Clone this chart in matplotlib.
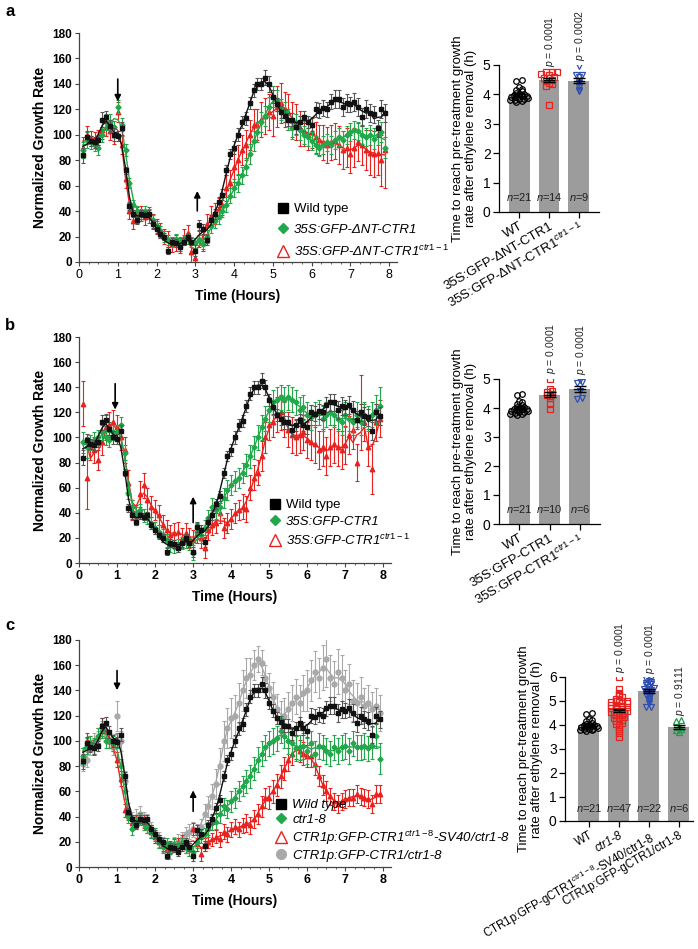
import numpy as np
import pandas as pd
import matplotlib
matplotlib.use("Agg")
import matplotlib.pyplot as plt
from matplotlib.lines import Line2D
from matplotlib.ticker import MultipleLocator

plt.rcParams['font.family'] = ['Liberation Sans', 'DejaVu Sans']
plt.rcParams['mathtext.fontset'] = 'custom'
plt.rcParams['mathtext.rm'] = 'Liberation Sans'
plt.rcParams['mathtext.it'] = 'Liberation Sans:italic'
plt.rcParams['mathtext.bf'] = 'Liberation Sans:bold'

# time points (hours), one every 0.1 h
hours = np.round(np.arange(1, 80) * 0.1, 1)

# wild type (same reference curve in all three panels)
wt = [84, 98, 95, 94, 96, 112, 114, 107, 100, 99,
      105, 72, 44, 38, 33, 38, 37, 38, 30, 26,
      22, 20, 9, 16, 15, 12, 16, 20, 16, 9,
      29, 26, 17, 33, 38, 47, 53, 72, 85, 90,
      100, 110, 113, 125, 135, 140, 140, 145, 140, 130,
      124, 118, 115, 112, 112, 106, 110, 114, 110, 108,
      120, 119, 121, 120, 126, 128, 128, 122, 125, 124,
      126, 122, 114, 120, 117, 116, 105, 120, 117]
wt_err = [6, 5, 4, 4, 4, 6, 5, 5, 5, 4,
          5, 3, 3, 3, 3, 3, 3, 3, 3, 3,
          3, 3, 3, 3, 3, 3, 3, 3, 3, 4,
          4, 4, 4, 4, 4, 4, 4, 4, 4, 5,
          5, 5, 5, 5, 5, 5, 5, 6, 6, 5,
          5, 5, 5, 5, 5, 5, 5, 5, 5, 5,
          6, 6, 6, 6, 6, 7, 7, 7, 7, 6,
          7, 7, 7, 7, 7, 7, 7, 7, 7]

# panel a
a_green = [88, 96, 94, 92, 90, 100, 110, 110, 106, 122,
           108, 88, 62, 45, 40, 38, 40, 38, 33, 28,
           24, 20, 17, 16, 18, 16, 17, 18, 16, 15,
           17, 14, 20, 28, 32, 35, 40, 45, 52, 58,
           62, 68, 75, 85, 95, 102, 110, 115, 122, 130,
           127, 120, 118, 112, 105, 108, 104, 100, 98, 95,
           92, 90, 92, 94, 92, 96, 98, 96, 100, 102,
           104, 103, 100, 98, 100, 97, 100, 102, 90]
a_green_err = [6, 6, 5, 5, 6, 6, 6, 6, 5, 5,
               5, 5, 4, 4, 4, 4, 4, 4, 4, 4,
               4, 4, 4, 4, 4, 4, 4, 4, 4, 4,
               4, 4, 5, 5, 5, 5, 5, 6, 6, 7,
               7, 7, 7, 8, 8, 8, 8, 8, 8, 8,
               8, 8, 8, 8, 8, 8, 8, 7, 7, 7,
               7, 7, 7, 7, 7, 7, 7, 7, 7, 7,
               7, 7, 7, 7, 8, 8, 8, 8, 8]
a_red = [90, 100, 97, 96, 98, 104, 106, 103, 100, 118,
         92, 65, 40, 32, 37, 38, 35, 37, 32, 28,
         25, 20, 18, 14, 15, 13, 20, 23, 8, 3,
         18, 15, 30, 36, 38, 42, 45, 58, 62, 75,
         80, 88, 92, 100, 108, 108, 112, 115, 118, 115,
         122, 125, 120, 118, 112, 110, 105, 103, 100, 102,
         98, 96, 94, 92, 94, 95, 92, 88, 90, 85,
         90, 94, 92, 88, 86, 85, 86, 80, 88]
a_red_err = [8, 7, 6, 6, 6, 7, 7, 7, 7, 8,
             7, 7, 6, 6, 6, 6, 6, 6, 6, 6,
             6, 6, 6, 6, 6, 6, 6, 6, 8, 8,
             6, 6, 8, 8, 8, 8, 8, 10, 10, 12,
             12, 12, 12, 12, 12, 12, 14, 14, 14, 16,
             16, 16, 14, 14, 14, 14, 14, 12, 12, 12,
             12, 12, 14, 14, 14, 14, 15, 15, 15, 15,
             15, 15, 16, 16, 18, 18, 18, 20, 30]

# panel b
b_green = [96, 92, 96, 98, 100, 104, 100, 98, 104, 104,
           110, 88, 56, 45, 40, 42, 38, 36, 32, 28,
           25, 22, 18, 14, 13, 14, 16, 17, 15, 8,
           25, 22, 28, 36, 45, 42, 45, 52, 58, 62,
           65, 68, 72, 78, 85, 92, 100, 108, 115, 122,
           128, 130, 132, 130, 132, 130, 128, 122, 124, 118,
           116, 118, 120, 115, 118, 120, 118, 115, 112, 118,
           115, 112, 118, 112, 118, 115, 118, 122, 125]
b_green_err = [8, 8, 6, 6, 6, 6, 6, 6, 6, 6,
               6, 6, 5, 5, 5, 5, 5, 5, 5, 5,
               5, 5, 5, 5, 5, 5, 5, 5, 5, 6,
               6, 6, 6, 6, 7, 7, 7, 8, 8, 8,
               8, 8, 8, 9, 9, 9, 10, 10, 10, 10,
               10, 10, 10, 10, 10, 10, 10, 10, 10, 10,
               10, 10, 10, 10, 10, 10, 10, 10, 10, 10,
               10, 10, 10, 10, 10, 10, 10, 12, 15]
b_red = [127, 68, 92, 90, 82, 96, 108, 110, 112, 108,
         100, 90, 64, 42, 38, 55, 62, 50, 45, 42,
         38, 30, 26, 22, 24, 25, 20, 24, 20, 18,
         24, 20, 12, 26, 30, 32, 40, 28, 32, 35,
         40, 42, 45, 43, 60, 68, 72, 85, 100, 110,
         112, 118, 120, 114, 106, 102, 100, 102, 104, 98,
         96, 95, 90, 92, 85, 92, 95, 92, 90, 94,
         102, 106, 80, 120, 112, 92, 75, 112, 115]
b_red_err = [18, 25, 10, 10, 8, 10, 10, 10, 10, 10,
             10, 10, 10, 8, 8, 10, 10, 10, 8, 8,
             8, 8, 8, 8, 8, 8, 8, 8, 8, 8,
             8, 8, 8, 8, 8, 8, 8, 8, 8, 8,
             8, 8, 10, 10, 10, 10, 10, 12, 12, 12,
             12, 14, 14, 14, 14, 14, 14, 14, 14, 14,
             14, 15, 15, 15, 15, 15, 15, 15, 15, 15,
             15, 15, 15, 30, 15, 15, 20, 15, 15]

# panel c
c_green = [88, 96, 98, 96, 104, 108, 100, 100, 98, 100,
           80, 60, 40, 30, 35, 38, 34, 32, 28, 26,
           20, 16, 18, 15, 18, 16, 18, 16, 14, 12,
           20, 24, 26, 30, 35, 36, 42, 48, 46, 52,
           55, 60, 64, 68, 72, 78, 85, 90, 95, 98,
           100, 102, 108, 104, 100, 98, 94, 95, 96, 92,
           98, 90, 96, 95, 92, 90, 95, 92, 95, 96,
           92, 98, 95, 95, 96, 94, 96, 104, 86]
c_green_err = [6, 6, 6, 6, 6, 6, 6, 6, 6, 6,
               6, 6, 5, 5, 5, 5, 5, 5, 5, 5,
               5, 5, 5, 5, 5, 5, 5, 5, 5, 5,
               5, 5, 5, 6, 6, 6, 7, 7, 7, 8,
               8, 8, 8, 9, 9, 9, 10, 10, 10, 10,
               10, 10, 10, 10, 10, 10, 10, 10, 10, 10,
               10, 10, 10, 10, 10, 10, 10, 10, 10, 10,
               10, 10, 10, 10, 10, 10, 10, 10, 12]
c_red = [88, 100, 98, 95, 104, 112, 108, 100, 98, 85,
         70, 45, 42, 35, 36, 38, 36, 32, 28, 24,
         20, 18, 14, 16, 17, 18, 20, 16, 14, 30,
         18, 10, 18, 20, 22, 24, 22, 28, 26, 30,
         32, 30, 33, 35, 33, 38, 42, 48, 55, 55,
         60, 65, 72, 78, 85, 90, 95, 92, 90, 88,
         88, 82, 72, 65, 60, 56, 52, 50, 52, 54,
         55, 55, 58, 56, 55, 54, 50, 58, 58]
c_red_err = [6, 6, 6, 6, 6, 6, 6, 6, 6, 6,
             6, 5, 5, 5, 5, 5, 5, 5, 5, 5,
             5, 5, 5, 5, 5, 5, 5, 5, 5, 5,
             5, 5, 5, 5, 5, 5, 6, 6, 6, 6,
             6, 6, 6, 7, 7, 7, 8, 8, 8, 9,
             9, 9, 9, 9, 9, 9, 9, 9, 9, 9,
             9, 9, 8, 8, 8, 7, 7, 7, 7, 7,
             7, 7, 7, 7, 7, 7, 7, 7, 7]
c_gray = [82, 85, 95, 100, 102, 110, 106, 100, 95, 120,
          100, 68, 45, 38, 40, 42, 38, 36, 30, 25,
          22, 18, 15, 12, 18, 20, 22, 26, 28, 30,
          28, 32, 42, 48, 56, 66, 80, 100, 110, 118,
          120, 130, 140, 150, 152, 160, 165, 162, 150, 142,
          135, 125, 118, 120, 125, 130, 135, 130, 138, 140,
          148, 155, 150, 158, 165, 150, 145, 155, 150, 140,
          145, 132, 130, 135, 128, 130, 125, 128, 122]
c_gray_err = [6, 6, 6, 6, 6, 6, 6, 6, 6, 12,
              8, 8, 6, 6, 6, 6, 6, 6, 6, 6,
              6, 6, 6, 6, 6, 6, 6, 6, 6, 6,
              6, 6, 8, 8, 10, 12, 14, 16, 16, 16,
              16, 16, 16, 16, 14, 12, 10, 10, 10, 12,
              12, 12, 14, 14, 14, 14, 14, 14, 14, 16,
              16, 16, 16, 18, 22, 18, 18, 18, 18, 16,
              16, 16, 16, 16, 14, 14, 14, 14, 14]

# bar charts: time to reach pre-treatment growth rate (h)
wt_time = [3.75, 3.78, 3.8, 3.82, 3.85, 3.85, 3.88, 3.9, 3.92, 3.95, 3.95,
           3.98, 4.0, 4.02, 4.05, 4.1, 4.15, 4.2, 4.25, 4.45, 4.5]
a_dnt_time = [3.65, 4.3, 4.35, 4.4, 4.45, 4.5, 4.55, 4.55, 4.6, 4.65, 4.7,
              4.75, 4.75, 4.75]
a_dnt11_time = [4.1, 4.15, 4.25, 4.4, 4.45, 4.6, 4.65, 4.65, 4.95]
b_ctr1_time = [3.95, 4.15, 4.35, 4.4, 4.45, 4.5, 4.55, 4.6, 4.65, 5.0]
b_ctr11_time = [4.3, 4.35, 4.6, 4.85, 4.9, 4.95]
c_ctr18_time = [3.5, 3.65, 3.75, 3.85, 3.9, 4.0, 4.05, 4.1, 4.15, 4.2, 4.25,
                4.3, 4.3, 4.35, 4.4, 4.4, 4.45, 4.5, 4.5, 4.55, 4.55, 4.6,
                4.6, 4.65, 4.65, 4.7, 4.7, 4.75, 4.75, 4.8, 4.8, 4.85, 4.85,
                4.9, 4.9, 4.95, 5.0, 5.0, 5.0, 5.05, 5.1, 5.15, 5.2, 5.3,
                5.35, 5.5, 6.0]
c_sv40_time = [4.75, 4.75, 4.9, 5.0, 5.1, 5.2, 5.25, 5.3, 5.35, 5.4, 5.45,
               5.5, 5.5, 5.55, 5.6, 5.65, 5.7, 5.75, 5.8, 5.85, 5.9, 5.95]
c_ctr1_time = [3.7, 3.8, 3.85, 3.9, 4.15, 4.2]

a_pvals = [None, "0.0001", "0.0002"]
b_pvals = [None, "0.0001", "0.0001"]
c_pvals = [None, "0.0001", "0.0001", "0.9111"]

a_ticks = ["WT", "35S:GFP-ΔNT-CTR1", "35S:GFP-ΔNT-CTR1$^{ctr1-1}$"]
b_ticks = ["WT", "35S:GFP-CTR1", "35S:GFP-CTR1$^{ctr1-1}$"]
c_ticks = ["WT", "ctr1-8", "CTR1p:GFP-gCTR1$^{ctr1-8}$-SV40/ctr1-8",
           "CTR1p:GFP-gCTR1/ctr1-8"]

BLACK = "#111111"
GREEN = "#22a84a"
RED = "#e8231f"
GRAY = "#a9a9a9"
BLUE = "#2f4fb0"
DKGREEN = "#1f9a4a"
BARC = "#9c9c9c"

W, H = 698, 949


def px_axes(fig, left, top, right, bottom):
    return fig.add_axes([left / W, 1 - bottom / H, (right - left) / W, (bottom - top) / H])


def series(ax, y, err, color, marker, ms, ecolor, z):
    y = np.asarray(y, float)
    smooth = pd.Series(y).rolling(3, center=True, min_periods=1).mean()
    ax.errorbar(hours, y, yerr=err, fmt='none', ecolor=ecolor, elinewidth=0.8,
                capsize=1.3, capthick=0.8, zorder=z)
    ax.plot(hours, smooth, color=color, lw=1.0, zorder=z + 0.1)
    ax.plot(hours, y, ls='none', marker=marker, ms=ms, color=color, mec=color, zorder=z + 0.2)


def line_axes(ax, xbold=True):
    ax.set_xlim(0, 8.2)
    ax.set_ylim(0, 180)
    ax.set_xticks(range(9))
    ax.set_yticks(range(0, 181, 20))
    ax.xaxis.set_minor_locator(MultipleLocator(0.25))
    for s in ['top', 'right']:
        ax.spines[s].set_visible(False)
    for s in ['left', 'bottom']:
        ax.spines[s].set_color('#444444')
        ax.spines[s].set_linewidth(0.9)
    ax.tick_params(axis='both', which='major', length=3, width=0.8, color='#444444', pad=2)
    ax.tick_params(axis='x', which='minor', length=1.5, width=0.6, color='#444444')
    for lab in ax.get_yticklabels():
        lab.set_fontsize(8.5)
        lab.set_fontweight('bold')
    for lab in ax.get_xticklabels():
        lab.set_fontsize(9)
        lab.set_fontweight('bold' if xbold else 'normal')
    ax.set_ylabel("Normalized Growth Rate", fontsize=10, fontweight='bold', labelpad=4)
    ax.set_xlabel("Time (Hours)", fontsize=10, fontweight='bold', labelpad=6)


def arrows(ax, down, up):
    ax.annotate("", xy=(down[0], down[1]), xytext=(down[0], down[2]),
                arrowprops=dict(arrowstyle='-|>', color='black', lw=1.2, mutation_scale=9))
    ax.annotate("", xy=(up[0], up[2]), xytext=(up[0], up[1]),
                arrowprops=dict(arrowstyle='-|>', color='black', lw=1.2, mutation_scale=9))


def swarm_x(vals, center, step=0.17, binw=0.08, maxw=0.6):
    vals = np.asarray(vals)
    xs = np.zeros(len(vals))
    bins = np.round(vals / binw).astype(int)
    for b in np.unique(bins):
        idx = np.where(bins == b)[0]
        k = len(idx)
        st = min(step, maxw / max(k - 1, 1))
        xs[idx] = center + (np.arange(k) - (k - 1) / 2) * st
    return xs


def bar_panel(ax, groups, colors, markers, ticks, pvals, ymax, xlim, tsize=9.5, italic=()):
    for i, vals in enumerate(groups):
        vals = np.asarray(vals)
        m = vals.mean()
        sem = vals.std(ddof=1) / np.sqrt(len(vals))
        ax.bar(i, m, width=0.7, color=BARC, zorder=1)
        ax.plot(swarm_x(vals, i), vals, ls='none', marker=markers[i], ms=4,
                mfc='none', mec=colors[i], mew=0.9, zorder=2)
        ax.errorbar(i, m, yerr=sem, fmt='none', ecolor='black', elinewidth=1,
                    capsize=4, capthick=1, zorder=3)
        ax.plot([i - 0.18, i + 0.18], [m, m], color='black', lw=1, zorder=3)
        ax.text(i, 0.3, "$\\it{n}$=%d" % len(vals), ha='center', va='bottom',
                fontsize=8, color='#222222', zorder=4)
        if pvals[i]:
            ax.text(i + 0.05, vals.max() + 0.18, "$\\it{p}$ = " + pvals[i], rotation=90,
                    ha='center', va='bottom', fontsize=7.5, color='#222222', clip_on=False)
    ax.set_xlim(*xlim)
    ax.set_ylim(0, ymax)
    ax.set_yticks(range(0, ymax + 1))
    ax.set_xticks(range(len(groups)))
    ax.set_xticklabels(ticks, rotation=30, ha='right', rotation_mode='anchor', fontsize=tsize)
    for j in italic:
        ax.get_xticklabels()[j].set_fontstyle('italic')
    ax.tick_params(axis='y', labelsize=10, length=4, width=0.9, pad=2)
    ax.tick_params(axis='x', length=4, width=0.9, pad=2)
    for s in ['top', 'right']:
        ax.spines[s].set_visible(False)
    for s in ['left', 'bottom']:
        ax.spines[s].set_linewidth(0.9)
    ax.set_ylabel("Time to reach pre-treatment growth\nrate after ethylene removal (h)",
                  fontsize=9.5, labelpad=4, linespacing=1.1)


def legend(fig, ax, handles, labels, x, y, spacing, italic_first=False):
    leg = ax.legend(handles, labels, loc='upper left', bbox_to_anchor=(x / W, 1 - y / H),
                    bbox_transform=fig.transFigure, frameon=False, fontsize=9.5,
                    handlelength=0.9, handletextpad=0.4, labelspacing=spacing,
                    borderpad=0, borderaxespad=0)
    for i, t in enumerate(leg.get_texts()):
        if i > 0 or italic_first:
            t.set_fontstyle('italic')
    return leg


def main():
    fig = plt.figure(figsize=(W / 100, H / 100), dpi=100)

    h_wt = Line2D([], [], ls='none', marker='s', ms=6.5, color='black')
    h_g = Line2D([], [], ls='none', marker='D', ms=5, color=GREEN)
    h_r = Line2D([], [], ls='none', marker='^', ms=8, mfc='none', mec=RED, mew=1)
    h_gr = Line2D([], [], ls='none', marker='o', ms=7, color=GRAY)

    # ---- panel a
    ax = px_axes(fig, 79, 33, 397, 262)
    series(ax, wt, wt_err, BLACK, 's', 3.5, '#555555', 3)
    series(ax, a_red, a_red_err, RED, '^', 3.2, RED, 2)
    series(ax, a_green, a_green_err, GREEN, 'D', 2.6, GREEN, 2.5)
    line_axes(ax, xbold=False)
    arrows(ax, (1.0, 124, 146), (3.05, 38, 58))
    legend(fig, ax, [h_wt, h_g, h_r],
           ["Wild type", "35S:GFP-ΔNT-CTR1", "35S:GFP-ΔNT-CTR1$^{ctr1-1}$"], 277, 203, 0.62)

    bx = px_axes(fig, 499, 65, 599, 212)
    bar_panel(bx, [wt_time, a_dnt_time, a_dnt11_time], ['black', RED, BLUE],
              ['o', 's', 'v'], a_ticks, a_pvals, 5, (-0.667, 2.667))

    # ---- panel b
    ax = px_axes(fig, 79, 337, 391, 563)
    series(ax, wt, wt_err, BLACK, 's', 3.5, '#555555', 3)
    series(ax, b_red, b_red_err, RED, '^', 3.2, RED, 2)
    series(ax, b_green, b_green_err, GREEN, 'D', 2.6, GREEN, 2.5)
    line_axes(ax)
    arrows(ax, (0.95, 120, 145), (3.0, 30, 55))
    legend(fig, ax, [h_wt, h_g, h_r],
           ["Wild type", "35S:GFP-CTR1", "35S:GFP-CTR1$^{ctr1-1}$"], 269, 499, 0.35)

    bx = px_axes(fig, 499, 379, 600, 524)
    bar_panel(bx, [wt_time, b_ctr1_time, b_ctr11_time], ['black', RED, BLUE],
              ['o', 's', 'v'], b_ticks, b_pvals, 5, (-0.667, 2.667))

    # ---- panel c
    ax = px_axes(fig, 79, 640, 391, 867)
    series(ax, c_gray, c_gray_err, GRAY, 'o', 3.5, GRAY, 1)
    series(ax, wt, wt_err, BLACK, 's', 3.5, '#555555', 3)
    series(ax, c_red, c_red_err, RED, '^', 3.2, RED, 2)
    series(ax, c_green, c_green_err, GREEN, 'D', 2.6, GREEN, 2.5)
    line_axes(ax)
    arrows(ax, (1.0, 138, 158), (3.0, 42, 63))
    legend(fig, ax, [h_wt, h_g, h_r, h_gr],
           ["Wild type", "ctr1-8", "CTR1p:GFP-CTR1$^{ctr1-8}$-SV40/ctr1-8", "CTR1p:GFP-CTR1/ctr1-8"],
           275, 799, 0.2, italic_first=True)

    bx = px_axes(fig, 565, 677, 693, 821)
    bar_panel(bx, [wt_time, c_ctr18_time, c_sv40_time, c_ctr1_time],
              ['black', RED, BLUE, DKGREEN], ['o', 's', 'v', '^'], c_ticks, c_pvals,
              6, (-0.8, 3.47), tsize=8.3, italic=(1,))

    for lab, y in [("a", 12), ("b", 325), ("c", 625)]:
        fig.text(5 / W, 1 - y / H, lab, fontsize=12, fontweight='bold', va='center')

    fig.savefig("out.png", dpi=100)


if __name__ == '__main__':
    main()
